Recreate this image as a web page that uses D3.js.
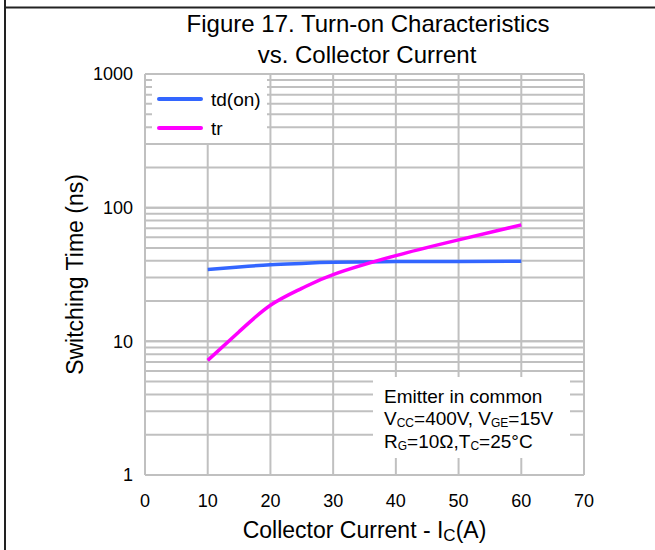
<!DOCTYPE html>
<html>
<head>
<meta charset="utf-8">
<script src="https://cdn.jsdelivr.net/npm/d3@7"></script>
<style>
body { margin: 0; background: #fff; }
svg text { font-family: "Liberation Sans", Arial, sans-serif; fill: #000; }
</style>
</head>
<body>
<div id="chart"></div>
<script>
// data
var current = [10, 15, 20, 25, 30, 40, 50, 60];
var tdOn = [34.5, 36, 37.4, 38.3, 39, 39.5, 39.6, 39.7];
var tr = [7.2, 11.8, 18.6, 24.9, 31.6, 43.8, 57.4, 74.3];
var xTicks = [0, 10, 20, 30, 40, 50, 60, 70];
var yTicks = [1, 10, 100, 1000];

var W = 655, H = 550;
var margin = {top: 74, right: 71, bottom: 75, left: 145},
	width = W - margin.left - margin.right,
	height = H - margin.top - margin.bottom;

var svg = d3.select("#chart")
	.append("svg")
	.attr("width", W)
	.attr("height", H);

// frame lines of the page
svg.append("line").attr("x1", 5).attr("x2", 5).attr("y1", 0).attr("y2", H)
	.attr("stroke", "#222").attr("stroke-width", 2);
svg.append("line").attr("x1", 5).attr("x2", W).attr("y1", 7.5).attr("y2", 7.5)
	.attr("stroke", "#222").attr("stroke-width", 2);

var g = svg.append("g")
	.attr("transform", "translate(" + margin.left + "," + margin.top + ")");

var x = d3.scaleLinear().domain([0, 70]).range([0, width]);
var y = d3.scaleLog().domain([1, 1000]).range([height, 0]);

var gridColor = "#c0c0c0";

// minor + major horizontal grid
var yGrid = [];
[1, 10, 100].forEach(function(d) {
	for (var k = 1; k <= 10; k++) yGrid.push(d * k);
});
g.selectAll(".hgrid")
	.data(yGrid)
	.enter().append("line")
	.attr("x1", 0).attr("x2", width)
	.attr("y1", d => y(d)).attr("y2", d => y(d))
	.attr("stroke", gridColor).attr("stroke-width", 2);

g.selectAll(".vgrid")
	.data(xTicks)
	.enter().append("line")
	.attr("x1", d => x(d)).attr("x2", d => x(d))
	.attr("y1", 0).attr("y2", height)
	.attr("stroke", gridColor).attr("stroke-width", 2);

// tick labels
g.selectAll(".xlab")
	.data(xTicks)
	.enter().append("text")
	.attr("x", d => x(d))
	.attr("y", height + 32)
	.attr("text-anchor", "middle")
	.style("font-size", "18px")
	.text(d => d);

g.selectAll(".ylab")
	.data(yTicks)
	.enter().append("text")
	.attr("x", -12)
	.attr("y", d => y(d))
	.attr("dy", "0.35em")
	.attr("text-anchor", "end")
	.style("font-size", "18px")
	.text(d => d);

// legend box
g.append("rect")
	.attr("x", 7).attr("y", 1)
	.attr("width", 115).attr("height", 68)
	.attr("fill", "#fff");

// annotation box
g.append("rect")
	.attr("x", 228).attr("y", 303)
	.attr("width", 197).attr("height", 81)
	.attr("fill", "#fff");

var line = d3.line()
	.x((d, i) => x(current[i]))
	.y(d => y(d))
	.curve(d3.curveNatural);

g.append("path")
	.attr("d", line(tdOn))
	.attr("fill", "none")
	.attr("stroke", "#3366ff")
	.attr("stroke-width", 3.5);

g.append("path")
	.attr("d", line(tr))
	.attr("fill", "none")
	.attr("stroke", "#ff00ff")
	.attr("stroke-width", 3.5);

// legend
var legend = [["td(on)", "#3366ff"], ["tr", "#ff00ff"]];
legend.forEach(function(l, i) {
	g.append("line")
		.attr("x1", 14).attr("x2", 56)
		.attr("y1", 25 + i * 29).attr("y2", 25 + i * 29)
		.attr("stroke", l[1]).attr("stroke-width", 4)
		.attr("stroke-linecap", "round");
	g.append("text")
		.attr("x", 66)
		.attr("y", 25 + i * 29)
		.attr("dy", "0.35em")
		.style("font-size", "19px")
		.text(l[0]);
});

// conditions note
var note = g.append("text").style("font-size", "19px");
note.append("tspan").attr("x", 239).attr("y", 329).text("Emitter in common");
var l2 = note.append("tspan").attr("x", 239).attr("y", 351);
l2.append("tspan").text("V");
l2.append("tspan").style("font-size", "12px").attr("dy", 2).text("CC");
l2.append("tspan").attr("dy", -2).text("=400V, V");
l2.append("tspan").style("font-size", "12px").attr("dy", 2).text("GE");
l2.append("tspan").attr("dy", -2).text("=15V");
var l3 = note.append("tspan").attr("x", 239).attr("y", 374);
l3.append("tspan").text("R");
l3.append("tspan").style("font-size", "12px").attr("dy", 2).text("G");
l3.append("tspan").attr("dy", -2).text("=10\u03a9,T");
l3.append("tspan").style("font-size", "12px").attr("dy", 2).text("C");
l3.append("tspan").attr("dy", -2).text("=25\u00b0C");

// titles
svg.append("text")
	.attr("x", 368).attr("y", 32)
	.attr("text-anchor", "middle")
	.style("font-size", "24px")
	.text("Figure 17. Turn-on Characteristics");
svg.append("text")
	.attr("x", 367).attr("y", 63)
	.attr("text-anchor", "middle")
	.style("font-size", "24px")
	.text("vs. Collector Current");

var xt = svg.append("text")
	.attr("x", margin.left + width / 2).attr("y", 538)
	.attr("text-anchor", "middle")
	.style("font-size", "23px");
xt.append("tspan").text("Collector Current - I");
xt.append("tspan").style("font-size", "17px").attr("dy", 3).text("C");
xt.append("tspan").attr("dy", -3).text("(A)");

svg.append("text")
	.attr("transform", "translate(83," + (margin.top + height / 2) + ") rotate(-90)")
	.attr("text-anchor", "middle")
	.style("font-size", "23px")
	.text("Switching Time (ns)");
</script>
</body>
</html>
